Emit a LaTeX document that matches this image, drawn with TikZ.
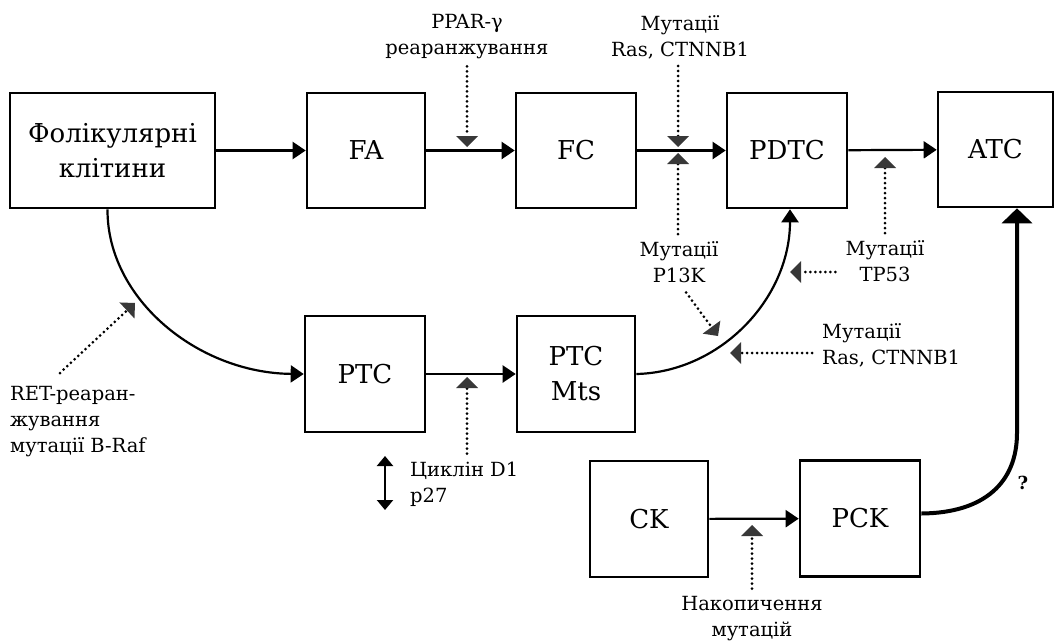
\documentclass[tikz,border=0pt]{standalone}
\usepackage{fontspec}
\setmainfont{DejaVu Serif}
\usetikzlibrary{arrows.meta,calc}
\begin{document}
\begin{tikzpicture}[x=1pt,y=-1pt,
  box/.style={draw,line width=2.6pt,minimum width=120pt,minimum height=115pt,inner sep=0pt,align=center,font=\fontsize{26}{35}\selectfont},
  lbl/.style={align=center,inner sep=0pt,font=\fontsize{19.5}{26}\selectfont},
  flow/.style={line width=2.2pt,-{Triangle[length=13pt,width=17pt]}},
  dotarrow/.style={line width=3pt,dash pattern=on 0pt off 5pt,line cap=round,
     -{Triangle[length=11pt,width=22pt,line width=0pt,color=black!78]}},
  thickflow/.style={line width=4pt,-{Triangle[length=15pt,width=30pt]}}
]
\useasboundingbox (0,0) rectangle (1055,640);
% boxes
\node[box,minimum width=205pt] (fol) at (112.5,150.5) {Фолікулярні\\клітини};
\node[box,minimum width=118pt] (fa) at (366,150.5) {FA};
\node[box] (fc) at (576,150.5) {FC};
\node[box] (pdtc) at (787,150.5) {PDTC};
\node[box,minimum width=115pt] (atc) at (995.5,149.5) {ATC};
\node[box,minimum height=116pt] (ptc) at (365,374) {PTC};
\node[box,minimum width=118pt,minimum height=116pt] (mts) at (576,374) {PTC\\Mts};
\node[box,minimum width=118pt,minimum height=116pt] (ck) at (649,519) {CK};
\node[box,minimum height=116pt] (pck) at (860,518.5) {PCK};
% main arrows
\draw[flow] (fol) -- (fa);
\draw[flow] (fa) -- (fc);
\draw[flow] (fc) -- (pdtc);
\draw[flow] (pdtc) -- (atc);
\draw[flow] (ptc) -- (mts);
\draw[flow] (ck) -- (pck);
\draw[flow] ($(fol.south)+(-5,0)$) .. controls (107,299) and (198,373) .. (ptc.west);
\draw[flow] (mts.east) .. controls (721,372) and (790,298) .. ($(pdtc.south)+(3,0)$);
\coordinate (atctip) at ($(atc.south)+(21.5,0)$);
\draw[thickflow] ($(pck.east)+(0,-5)$) .. controls (985,513) and (1017,482) .. (1017,433) -- (atctip);
\node[font=\fontsize{18}{20}\selectfont\bfseries] (q) at (1023,483) {?};
% labels
\node[lbl] (ppar) at (467,37) {PPAR-γ\\реаранжування};
\node[lbl] (rastop) at (680,37) {Мутації\\Ras, CTNNB1};
\node[lbl] (p13k) at (679,262) {Мутації\\P13K};
\node[lbl] (tp53) at (885,261) {Мутації\\TP53};
\node[lbl,align=left,anchor=west] (raslow) at (822,345) {Мутації\\Ras, CTNNB1};
\node[lbl,align=left,anchor=west] (ret) at (10,422) {RET-реаран-\\жування\\мутації B-Raf};
\node[lbl,align=left,anchor=west] (cyc) at (410,484) {Циклін D1\\p27};
\node[lbl] (nak) at (752,619) {Накопичення\\мутацій};
% dotted arrows
\coordinate (t1) at (467,147);
\coordinate (t2) at (678,147);
\coordinate (t3) at (678,153);
\coordinate (t4) at (885,157);
\coordinate (t5) at (790,272);
\coordinate (t6) at (718,336);
\coordinate (t7) at (730,353);
\coordinate (r0) at (60,373);
\coordinate (t8) at (135,303);
\coordinate (t9) at (467,377);
\coordinate (t10) at (752,525);
\draw[dotarrow,shorten <=7pt] (ppar.south) -- (t1);
\draw[dotarrow,shorten <=7pt] (rastop.south -| t2) -- (t2);
\draw[dotarrow,shorten <=7pt] (p13k.north -| t3) -- (t3);
\draw[dotarrow,shorten <=7pt] (tp53.north) -- (t4);
\draw[dotarrow,shorten <=10pt] (tp53.west |- t5) -- (t5);
\draw[dotarrow,shorten <=12pt] (p13k.south) -- (t6);
\draw[dotarrow,shorten <=10pt] (raslow.west |- t7) -- (t7);
\draw[dotarrow] (r0) -- (t8);
\draw[dotarrow,shorten <=8pt] (cyc.north -| t9) -- (t9);
\draw[dotarrow,shorten <=8pt] (nak.north) -- (t10);
% up/down arrow
\coordinate (d1) at (385,456);
\coordinate (d2) at (385,510);
\draw[line width=2.2pt,{Triangle[length=10pt,width=16pt]}-{Triangle[length=10pt,width=16pt]}] (d1) -- (d2);
\end{tikzpicture}
\end{document}
